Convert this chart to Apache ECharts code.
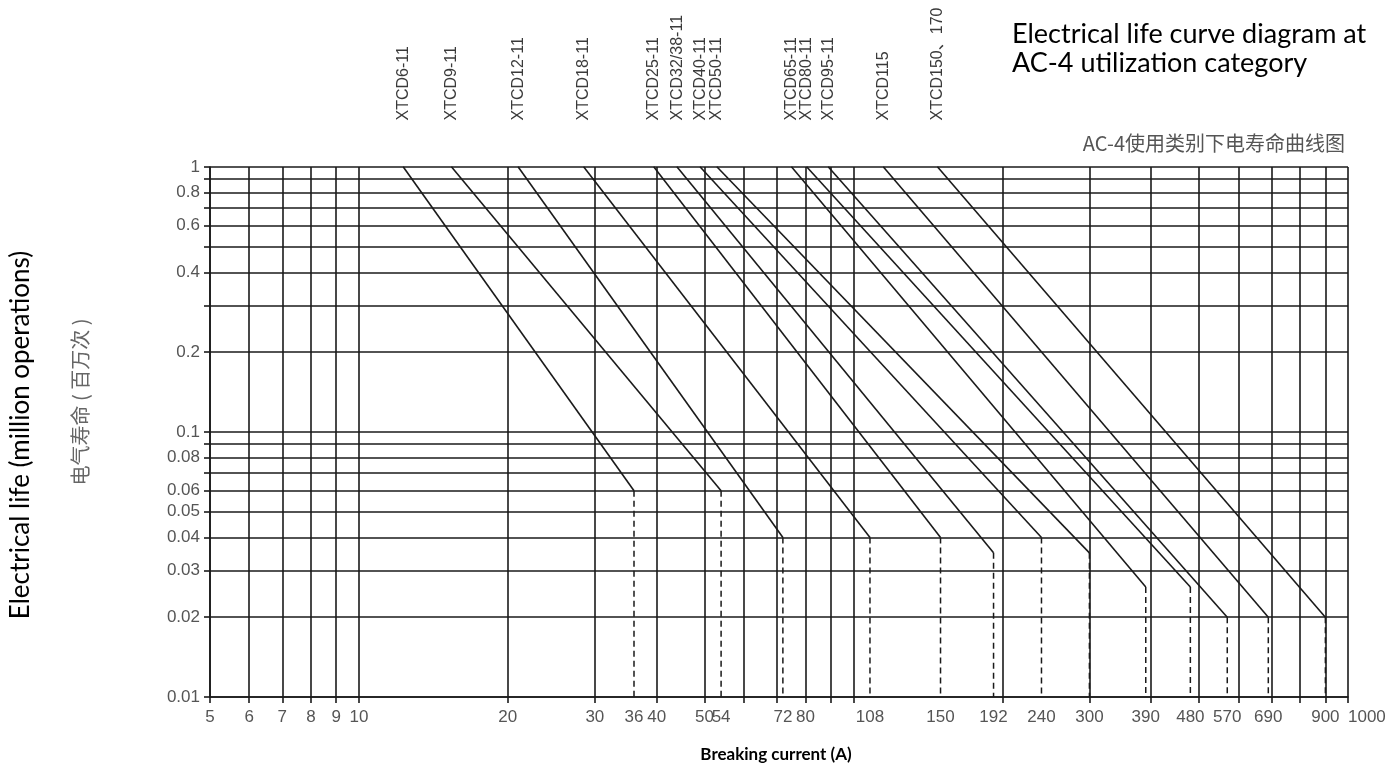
<!DOCTYPE html>
<html>
<head>
<meta charset="utf-8">
<script src="https://cdn.jsdelivr.net/npm/echarts@6/dist/echarts.min.js"></script>
<style>
html,body{margin:0;padding:0;background:#fff;}
#chart{width:1393px;height:777px;}
</style>
</head>
<body>
<div id="chart"></div>
<script>
// ---- data ----
var contactorNames = ['XTCD6-11','XTCD9-11','XTCD12-11','XTCD18-11','XTCD25-11','XTCD32/38-11','XTCD40-11','XTCD50-11','XTCD65-11','XTCD80-11','XTCD95-11','XTCD115','XTCD150、170'];
// breaking current (A) where each curve meets 1 million operations
var startCurrent = [12.3, 15.4, 21, 28.5, 39.5, 44, 49, 53, 75, 80.5, 89, 115, 148];
// end point of each curve
var endCurrent = [36, 54, 72, 108, 150, 192, 240, 300, 390, 480, 570, 690, 900];
var endLife = [0.06, 0.06, 0.04, 0.04, 0.04, 0.035, 0.04, 0.035, 0.026, 0.026, 0.02, 0.02, 0.02];
var startLife = 1;
var minLife = 0.01;

// axis grid / tick labels
var xGridValues = [5,6,7,8,9,10,20,30,40,50,60,70,80,90,100,200,300,400,500,600,700,800,900,1000];
var xTickLabels = [5,6,7,8,9,10,20,30,36,40,50,54,72,80,108,150,192,240,300,390,480,570,690,900,1000];
var yGridValues = [0.01,0.02,0.03,0.04,0.05,0.06,0.07,0.08,0.09,0.1,0.2,0.3,0.4,0.5,0.6,0.7,0.8,0.9,1];
var yTickLabels = [0.01,0.02,0.03,0.04,0.05,0.06,0.08,0.1,0.2,0.4,0.6,0.8,1];

// keep the end tick inside the floating-point extent of the log scale
function insideExtent(vals, lo, hi) {
  return vals.map(function (v) { return Math.min(Math.max(v, lo * 1.000001), hi * 0.999999); });
}

var chart = echarts.init(document.getElementById('chart'));
var series = [];
for (var i = 0; i < contactorNames.length; i++) {
  series.push({
    type: 'line',
    name: contactorNames[i],
    clip: false,
    symbol: 'none',
    animation: false,
    lineStyle: {color: '#1a1a1a', width: 1.6},
    data: [
      {
        value: [startCurrent[i], startLife],
        symbol: 'circle',
        symbolSize: 1,
        itemStyle: {color: '#1a1a1a'},
        label: {
          show: true,
          formatter: contactorNames[i],
          position: 'top',
          distance: 46,
          rotate: 90,
          align: 'left',
          verticalAlign: 'middle',
          fontFamily: 'Liberation Sans, Noto Sans CJK SC, sans-serif',
          fontSize: 16,
          color: '#3a3a3a'
        }
      },
      [endCurrent[i], endLife[i]]
    ]
  });
  series.push({
    type: 'line',
    name: contactorNames[i] + ' drop',
    clip: false,
    symbol: 'none',
    animation: false,
    lineStyle: {color: '#1a1a1a', width: 1.5, type: [6, 4]},
    data: [[endCurrent[i], endLife[i]], [endCurrent[i], minLife]]
  });
}

var tickFont = {fontFamily: 'Liberation Sans, sans-serif', fontSize: 17, color: '#555'};

chart.setOption({
  animation: false,
  backgroundColor: '#fff',
  grid: {left: 210, right: 45, top: 167, bottom: 80, containLabel: false},
  xAxis: {
    type: 'log',
    logBase: 10,
    min: 5,
    max: 1000,
    axisLine: {show: true, lineStyle: {color: '#1a1a1a', width: 1.6}},
    axisTick: {show: true, length: 6, customValues: insideExtent(xGridValues, 5, 1000), lineStyle: {color: '#1a1a1a', width: 1.6}},
    axisLabel: Object.assign({show: true, margin: 12, showMinLabel: true, showMaxLabel: true, alignMaxLabel: 'left', hideOverlap: false, customValues: insideExtent(xTickLabels, 5, 1000), formatter: function (v) { return String(+(+v).toPrecision(4)); }}, tickFont),
    splitLine: {show: true, lineStyle: {color: '#1a1a1a', width: 1.6}},
    minorTick: {show: false},
    minorSplitLine: {show: false}
  },
  yAxis: {
    type: 'log',
    logBase: 10,
    min: 0.01,
    max: 1,
    axisLine: {show: true, lineStyle: {color: '#1a1a1a', width: 1.6}},
    axisTick: {show: true, length: 6, customValues: insideExtent(yGridValues, 0.01, 1), lineStyle: {color: '#1a1a1a', width: 1.6}},
    axisLabel: Object.assign({show: true, margin: 10, showMinLabel: true, showMaxLabel: true, hideOverlap: false, customValues: insideExtent(yTickLabels, 0.01, 1), formatter: function (v) { return String(+(+v).toPrecision(3)); }}, tickFont),
    splitLine: {show: true, lineStyle: {color: '#1a1a1a', width: 1.6}},
    minorTick: {show: false},
    minorSplitLine: {show: false}
  },
  graphic: [
    {type: 'text', left: 1012, top: 20, style: {text: 'Electrical life curve diagram at\nAC-4 utilization category', font: '27px Lato, sans-serif', fill: '#000', lineHeight: 29}},
    {type: 'text', right: 48, top: 133, style: {text: 'AC-4使用类别下电寿命曲线图', font: '20px "Noto Sans CJK SC", sans-serif', fill: '#555'}},
    {type: 'text', x: 21, y: 435, rotation: Math.PI / 2, style: {text: 'Electrical life (million operations)', font: '26px Lato, sans-serif', fill: '#000', textAlign: 'center', textVerticalAlign: 'middle'}},
    {type: 'text', x: 80, y: 402, rotation: Math.PI / 2, style: {text: '电气寿命 ( 百万次 )', font: '20px "Noto Sans CJK SC", sans-serif', fill: '#666', textAlign: 'center', textVerticalAlign: 'middle'}},
    {type: 'text', x: 776, y: 755, style: {text: 'Breaking current (A)', font: 'bold 17px Lato, sans-serif', fill: '#000', textAlign: 'center', textVerticalAlign: 'middle'}}
  ],
  series: series
});
</script>
</body>
</html>
